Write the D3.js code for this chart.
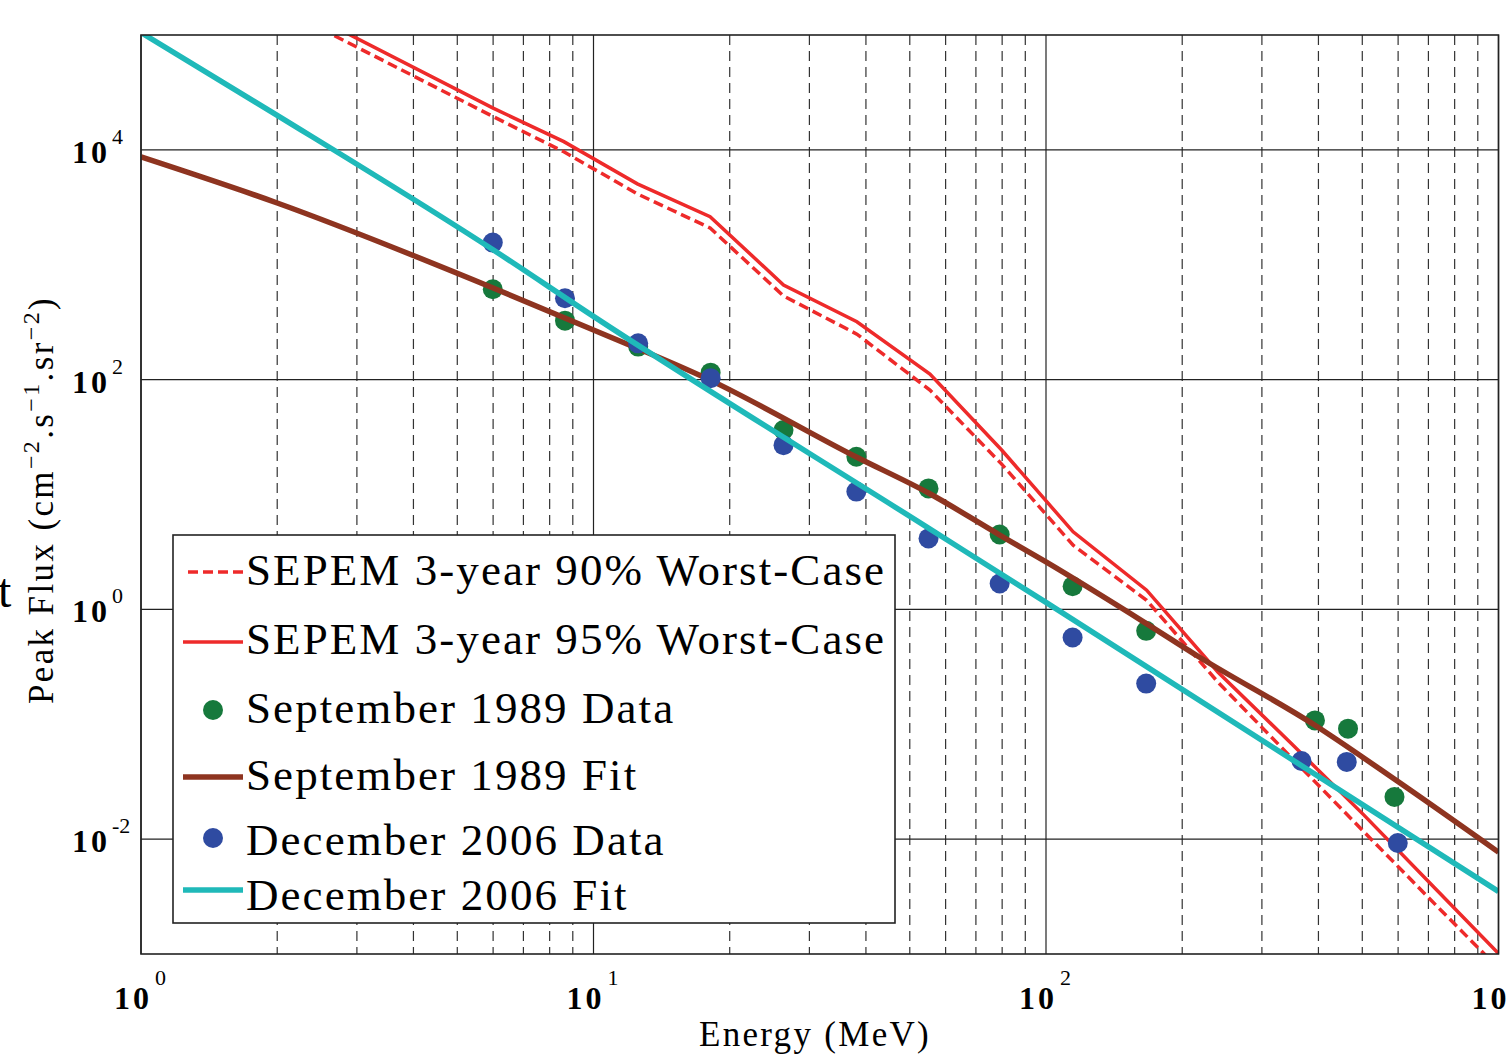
<!DOCTYPE html>
<html>
<head>
<meta charset="utf-8">
<script src="https://cdn.jsdelivr.net/npm/d3@7"></script>
<style>
  body { margin: 0; background: #fff; }
  svg { display: block; font-family: "Liberation Serif", "DejaVu Serif", serif; }
</style>
</head>
<body>
<svg width="1509" height="1054"></svg>
<script>
// energies (MeV) and peak flux values
var sepemE = [2.5, 6.0, 8.6, 12.5, 18.1, 26.3, 38.2, 55.4, 79.8, 114.8, 166.9, 240, 348, 505, 731, 1000];
var sepem95 = [135000, 23070, 11800, 5060, 2620, 667, 319, 112, 24.4, 4.73, 1.47, 0.284, 0.0682, 0.0161, 0.00359, 0.00101];
var sepem90 = [113000, 19500, 9620, 4140, 2090, 535, 249, 81.1, 18.4, 3.62, 1.20, 0.232, 0.0516, 0.0115, 0.00261, 0.00075];

var sep89E = [5.99, 8.65, 12.55, 18.15, 26.3, 38.1, 55.0, 79.0, 114.5, 166.5, 393, 465, 589];
var sep89Flux = [612, 326, 194, 115, 36.4, 21.3, 11.3, 4.49, 1.59, 0.650, 0.108, 0.0916, 0.0233];

var dec06E = [5.99, 8.65, 12.55, 18.15, 26.3, 38.1, 55.0, 79.0, 114.5, 166.5, 367, 462, 599];
var dec06Flux = [1560, 511, 207, 103, 26.9, 10.6, 4.15, 1.68, 0.569, 0.226, 0.0479, 0.0470, 0.00925];

var sep89FitE = [1, 2, 6, 10, 18.1, 38, 55, 79, 100, 166, 218, 393, 594, 1000];
var sep89Fit = [8690, 3450, 628, 270, 99, 21.3, 10.3, 4.44, 2.59, 0.76, 0.385, 0.098, 0.0325, 0.0077];

var dec06FitE = [1, 2, 6, 10, 55, 100, 1000];
var dec06Fit = [105000, 20000, 1350, 355, 5.1, 1.15, 0.0035];

var xTickExps = [0, 1, 2, 3];
var yTickExps = [-2, 0, 2, 4];

var legendLabels = ["SEPEM 3-year 90% Worst-Case", "SEPEM 3-year 95% Worst-Case",
  "September 1989 Data", "September 1989 Fit", "December 2006 Data", "December 2006 Fit"];

var red = "#ee2a2a", green = "#16793c", brown = "#8e3420", blue = "#2f4ba1", cyan = "#1fb9b9";

var svg = d3.select("svg");
svg.append("rect").attr("width", 1509).attr("height", 1054).attr("fill", "#fff");

var xScale = d3.scaleLog().domain([1, 1000]).range([141, 1498.5]);
var yScale = d3.scaleLog().domain([1e-3, 1e5]).range([954, 35]);

svg.append("clipPath").attr("id", "plotClip")
  .append("rect").attr("x", 141).attr("y", 35).attr("width", 1357.5).attr("height", 919);

// vertical grid: solid at decades, dashed at 2..9
var grid = svg.append("g");
xScale.ticks().forEach(function (t) {
  var decade = Math.abs(Math.log10(t) - Math.round(Math.log10(t))) < 1e-9;
  grid.append("line")
    .attr("x1", xScale(t)).attr("x2", xScale(t))
    .attr("y1", 35).attr("y2", 954)
    .attr("stroke", decade ? "#222" : "#333")
    .attr("stroke-width", 1.2)
    .attr("stroke-dasharray", decade ? null : "10,6");
});
yTickExps.forEach(function (e) {
  grid.append("line")
    .attr("x1", 141).attr("x2", 1498.5)
    .attr("y1", yScale(Math.pow(10, e))).attr("y2", yScale(Math.pow(10, e)))
    .attr("stroke", "#222").attr("stroke-width", 1.2);
});

var plot = svg.append("g").attr("clip-path", "url(#plotClip)");

function lineOf(xs, ys) {
  return d3.line()
    .x(function (d, i) { return xScale(xs[i]); })
    .y(function (d, i) { return yScale(ys[i]); })(ys);
}
function smoothOf(xs, ys) {
  return d3.line()
    .x(function (d, i) { return xScale(xs[i]); })
    .y(function (d, i) { return yScale(ys[i]); })
    .curve(d3.curveMonotoneX)(ys);
}

plot.append("path").attr("d", lineOf(sepemE, sepem90))
  .attr("fill", "none").attr("stroke", red).attr("stroke-width", 3.5).attr("stroke-dasharray", "10,5");
plot.append("path").attr("d", lineOf(sepemE, sepem95))
  .attr("fill", "none").attr("stroke", red).attr("stroke-width", 3.5);

plot.selectAll("circle.sep89").data(sep89Flux).enter().append("circle")
  .attr("class", "sep89")
  .attr("cx", function (d, i) { return xScale(sep89E[i]); })
  .attr("cy", function (d) { return yScale(d); })
  .attr("r", 10).attr("fill", green);

plot.append("path").attr("d", smoothOf(sep89FitE, sep89Fit))
  .attr("fill", "none").attr("stroke", brown).attr("stroke-width", 5.5);

plot.selectAll("circle.dec06").data(dec06Flux).enter().append("circle")
  .attr("class", "dec06")
  .attr("cx", function (d, i) { return xScale(dec06E[i]); })
  .attr("cy", function (d) { return yScale(d); })
  .attr("r", 10).attr("fill", blue);

plot.append("path").attr("d", smoothOf(dec06FitE, dec06Fit))
  .attr("fill", "none").attr("stroke", cyan).attr("stroke-width", 5.5);

// frame
svg.append("rect").attr("x", 141).attr("y", 35).attr("width", 1357.5).attr("height", 919)
  .attr("fill", "none").attr("stroke", "#222").attr("stroke-width", 1.6);

// tick labels
yTickExps.forEach(function (e) {
  var y = yScale(Math.pow(10, e));
  svg.append("text").attr("x", 72).attr("y", y + 13)
    .attr("font-size", 32).attr("font-weight", "bold").attr("letter-spacing", 3).text("10");
  svg.append("text").attr("x", 112).attr("y", y - 6)
    .attr("font-size", 22).text(e);
});
xTickExps.forEach(function (e) {
  var x = xScale(Math.pow(10, e));
  svg.append("text").attr("x", x - 27).attr("y", 1009)
    .attr("font-size", 32).attr("font-weight", "bold").attr("letter-spacing", 3).text("10");
  svg.append("text").attr("x", x + 14).attr("y", 985)
    .attr("font-size", 22).text(e);
});

// axis titles
svg.append("text").attr("x", 815).attr("y", 1046)
  .attr("text-anchor", "middle").attr("font-size", 35).attr("letter-spacing", 2.3)
  .text("Energy (MeV)");

var yt = svg.append("text").attr("transform", "translate(53,500) rotate(-90)")
  .attr("text-anchor", "middle").attr("font-size", 35);
yt.append("tspan").text("Peak Flux (cm");
yt.append("tspan").attr("dy", -14).attr("font-size", 24).text("\u22122");
yt.append("tspan").attr("dy", 14).text(".s");
yt.append("tspan").attr("dy", -14).attr("font-size", 24).text("\u22121");
yt.append("tspan").attr("dy", 14).text(".sr");
yt.append("tspan").attr("dy", -14).attr("font-size", 24).text("\u22122");
yt.append("tspan").attr("dy", 14).text(")");
var ytw = yt.node().getComputedTextLength();
yt.attr("letter-spacing", (420 - ytw) / 30);

// stray glyph at the left edge of the figure
svg.append("text").attr("x", -2).attr("y", 607).attr("font-size", 48).text("t");

// legend
var lg = svg.append("g");
lg.append("rect").attr("x", 173).attr("y", 535).attr("width", 722).attr("height", 388)
  .attr("fill", "#fff").attr("stroke", "#222").attr("stroke-width", 1.6);

var rowMid = [572, 642, 710, 777, 838, 890];
var rowBase = [585, 654, 723, 790, 855, 910];

lg.append("line").attr("x1", 188).attr("x2", 243).attr("y1", rowMid[0]).attr("y2", rowMid[0])
  .attr("stroke", red).attr("stroke-width", 3.5).attr("stroke-dasharray", "10,5");
lg.append("line").attr("x1", 183).attr("x2", 243).attr("y1", rowMid[1]).attr("y2", rowMid[1])
  .attr("stroke", red).attr("stroke-width", 3.5);
lg.append("circle").attr("cx", 213).attr("cy", rowMid[2]).attr("r", 10).attr("fill", green);
lg.append("line").attr("x1", 183).attr("x2", 243).attr("y1", rowMid[3]).attr("y2", rowMid[3])
  .attr("stroke", brown).attr("stroke-width", 5.5);
lg.append("circle").attr("cx", 213).attr("cy", rowMid[4]).attr("r", 10).attr("fill", blue);
lg.append("line").attr("x1", 183).attr("x2", 243).attr("y1", rowMid[5]).attr("y2", rowMid[5])
  .attr("stroke", cyan).attr("stroke-width", 5.5);

var texts = lg.selectAll("text.leg").data(legendLabels).enter().append("text")
  .attr("class", "leg")
  .attr("x", 246).attr("y", function (d, i) { return rowBase[i]; })
  .attr("font-size", 45)
  .text(function (d) { return d; });

// widen spacing so the first row spans the same width as the original
var w0 = texts.node().getComputedTextLength();
var ls = (638 - w0) / (legendLabels[0].length - 1);
texts.attr("letter-spacing", ls);
</script>
</body>
</html>
